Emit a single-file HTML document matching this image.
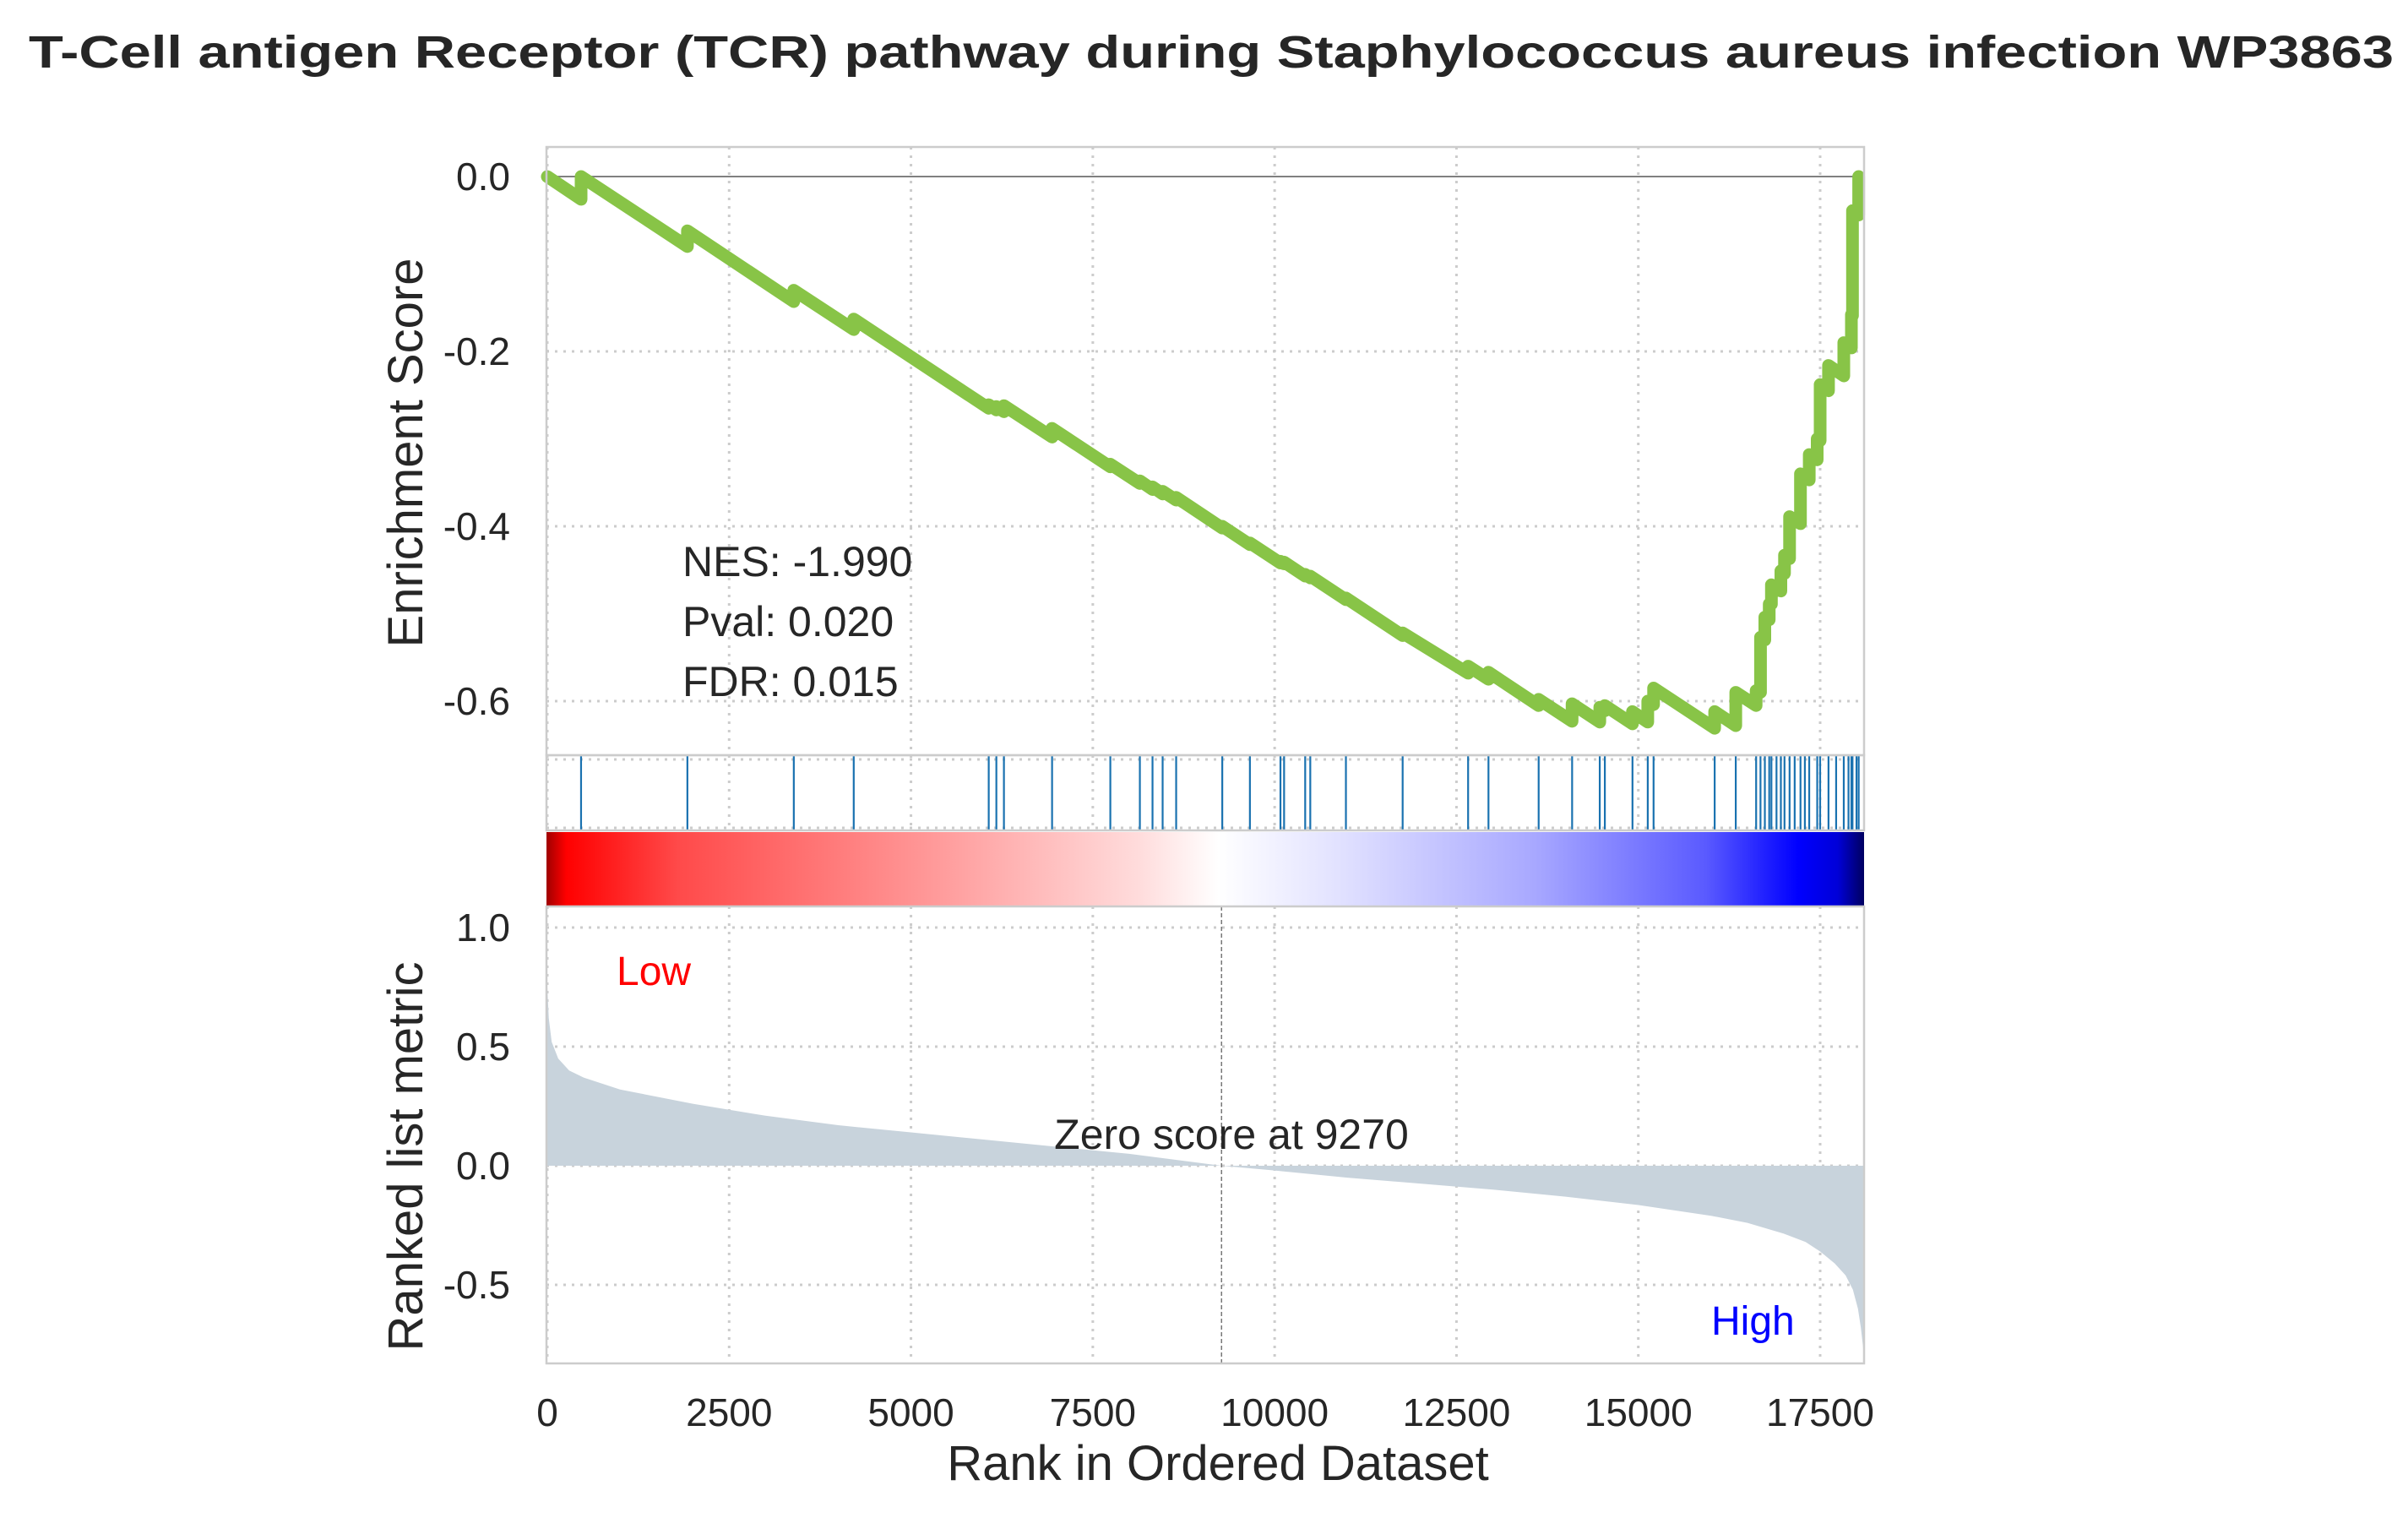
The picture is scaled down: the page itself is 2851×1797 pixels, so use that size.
<!DOCTYPE html>
<html><head><meta charset="utf-8">
<style>
html,body{margin:0;padding:0;background:#fff;}
svg{display:block;font-family:"Liberation Sans",Arial,sans-serif;}
</style></head>
<body>
<svg id="chart" width="2851" height="1797" viewBox="0 0 2851 1797" xmlns="http://www.w3.org/2000/svg">
<defs>
<linearGradient id="cbar" x1="0" x2="1" y1="0" y2="0">
<stop offset="0" stop-color="#a00000"/>
<stop offset="0.015" stop-color="#ff0000"/>
<stop offset="0.1" stop-color="#ff4a4a"/>
<stop offset="0.3" stop-color="#ff9c9c"/>
<stop offset="0.45" stop-color="#ffdcdc"/>
<stop offset="0.51" stop-color="#ffffff"/>
<stop offset="0.6" stop-color="#e2e2ff"/>
<stop offset="0.75" stop-color="#a8a8ff"/>
<stop offset="0.88" stop-color="#5a5aff"/>
<stop offset="0.95" stop-color="#0000ff"/>
<stop offset="0.98" stop-color="#0000d8"/>
<stop offset="1" stop-color="#000060"/>
</linearGradient>
</defs>
<text x="1434" y="80" text-anchor="middle" font-size="54" font-weight="bold" fill="#262626" textLength="2800" lengthAdjust="spacingAndGlyphs">T-Cell antigen Receptor (TCR) pathway during Staphylococcus aureus infection WP3863</text>
<g id="grid"></g>
<g id="marks"></g>
<g id="frames"></g>
<g id="labels"></g>
</svg>
<script>
// ---- data ----
const esRanks  = [0,464,464,1926,1926,3389,3389,4213,4213,6069,6069,6174,6174,6278,6278,6940,6940,7741,7741,8147,8147,8321,8321,8460,8460,8646,8646,9280,9280,9660,9660,10080,10080,10130,10130,10420,10420,10490,10490,10980,10980,11760,11760,12660,12660,12940,12940,13630,13630,14090,14090,14470,14470,14540,14540,14920,14920,15130,15130,15210,15210,16050,16050,16340,16340,16620,16620,16680,16680,16740,16740,16800,16800,16830,16830,16960,16960,17010,17010,17080,17080,17230,17230,17350,17350,17460,17460,17500,17500,17615,17615,17825,17825,17930,17930,17945,17945,18030,18030];
const esValues = [0,-0.026,0.0,-0.080,-0.062,-0.143,-0.130,-0.175,-0.163,-0.265,-0.261,-0.267,-0.263,-0.269,-0.262,-0.298,-0.288,-0.332,-0.329,-0.351,-0.348,-0.358,-0.355,-0.363,-0.360,-0.370,-0.367,-0.402,-0.400,-0.421,-0.419,-0.442,-0.440,-0.443,-0.441,-0.457,-0.455,-0.459,-0.457,-0.484,-0.482,-0.525,-0.522,-0.568,-0.560,-0.575,-0.567,-0.605,-0.598,-0.623,-0.603,-0.624,-0.607,-0.611,-0.605,-0.626,-0.612,-0.624,-0.600,-0.604,-0.585,-0.631,-0.612,-0.628,-0.590,-0.605,-0.588,-0.590,-0.527,-0.530,-0.504,-0.507,-0.489,-0.489,-0.467,-0.474,-0.451,-0.454,-0.433,-0.437,-0.389,-0.397,-0.340,-0.347,-0.318,-0.324,-0.300,-0.302,-0.238,-0.245,-0.216,-0.228,-0.190,-0.196,-0.158,-0.159,-0.039,-0.044,0.0];
const hitRanks = [464,1926,3389,4213,6069,6174,6278,6940,7741,8147,8321,8460,8646,9280,9660,10080,10130,10420,10490,10980,11760,12660,12940,13630,14090,14470,14540,14920,15130,15210,16050,16340,16620,16680,16740,16800,16830,16900,16960,17010,17080,17150,17230,17290,17350,17460,17500,17615,17720,17825,17890,17930,17945,18000,18030];
const metricRanks  = [0,20,60,150,300,500,1000,2000,3000,4000,5000,6000,7000,8000,9270,10000,11000,12000,13000,14000,15000,16000,16500,17000,17300,17500,17700,17850,17950,18020,18060,18090,18104];
const metricValues = [0.75,0.62,0.52,0.45,0.40,0.37,0.32,0.26,0.21,0.17,0.14,0.11,0.08,0.05,0.0,-0.02,-0.05,-0.075,-0.10,-0.13,-0.165,-0.21,-0.24,-0.285,-0.32,-0.36,-0.41,-0.46,-0.52,-0.60,-0.68,-0.76,-0.83];
const xTicks = [0,2500,5000,7500,10000,12500,15000,17500];
const esTicks = [0.0,-0.2,-0.4,-0.6];
const esTickLabels = ["0.0","-0.2","-0.4","-0.6"];
const mTicks = [1.0,0.5,0.0,-0.5];
const mTickLabels = ["1.0","0.5","0.0","-0.5"];
const zeroScore = 9270;
const statsText = ["NES: -1.990","Pval: 0.020","FDR: 0.015"];

// ---- axes ----
const L=647,R=2207,N=18104;
const TOP=174, TOPB=894, HB=983, CB0=985, CB1=1073, BB=1614;
const xs = r => 648 + r*(R-648)/N;
const yES = v => 209 - v*1035;
const yM = v => 1380 - v*282;
const NS="http://www.w3.org/2000/svg";
function mk(tag, attrs, parent){const e=document.createElementNS(NS,tag);for(const k in attrs)e.setAttribute(k,attrs[k]);parent.appendChild(e);return e;}
const grid=document.getElementById('grid'), marks=document.getElementById('marks'), frames=document.getElementById('frames'), labels=document.getElementById('labels');
const gs={stroke:"#cccccc","stroke-width":3,"stroke-dasharray":"3 7"};
const TF=46;

// colorbar
const cb=mk('rect',{x:L,y:CB0,width:R-L,height:CB1-CB0,fill:"url(#cbar)"},marks);



// vertical grid
xTicks.forEach(t=>{
  [[TOP,TOPB],[TOPB,HB],[CB1,BB]].forEach(([a,b])=>{
    const g=mk('line',Object.assign({x1:xs(t),x2:xs(t),y1:a,y2:b},gs),grid);
    
    
  });
  const tl=mk('text',{x:xs(t),y:1688,"text-anchor":"middle","font-size":TF,fill:"#262626"},labels);
  tl.textContent=t;
  
  
});
// colorbar dotted lines
[1015,1054].forEach(y=>{const g=mk('line',{x1:L,x2:R,y1:y,y2:y,stroke:"#dddddd","stroke-width":3,"stroke-dasharray":"3 7",opacity:0.8},grid);});
const cg=mk('line',{x1:xs(17500),x2:xs(17500),y1:CB0,y2:CB1,stroke:"#dddddd","stroke-width":3,"stroke-dasharray":"3 7"},grid);


// hits panel horizontal dotted
[899,980].forEach(y=>{const g=mk('line',Object.assign({x1:L,x2:R,y1:y,y2:y},gs),grid);});

// ES y grid + ticks
esTicks.forEach((t,i)=>{
  if(t!==0){const g=mk('line',Object.assign({x1:L,x2:R,y1:yES(t),y2:yES(t)},gs),grid);}
  const tl=mk('text',{x:604,y:yES(t)+16,"text-anchor":"end","font-size":TF,fill:"#262626"},labels);
  tl.textContent=esTickLabels[i];
  
  
});
const zl=mk('line',{x1:L,x2:R,y1:yES(0),y2:yES(0),stroke:"#808080","stroke-width":2},grid);



// metric y grid + ticks
mTicks.forEach((t,i)=>{
  const g=mk('line',Object.assign({x1:L,x2:R,y1:yM(t),y2:yM(t)},gs),grid);
  
  
  const tl=mk('text',{x:604,y:yM(t)+16,"text-anchor":"end","font-size":TF,fill:"#262626"},labels);
  tl.textContent=mTickLabels[i];
  
  
});

// metric area
let d="M"+xs(metricRanks[0])+","+yM(0);
metricRanks.forEach((r,i)=>{d+=" L"+xs(r)+","+yM(metricValues[i]);});
d+=" L"+xs(metricRanks[metricRanks.length-1])+","+yM(0)+" Z";
const area=mk('path',{d:d,fill:"#c8d3dc",stroke:"none"},marks);



// zero score line
const zs=mk('line',{x1:xs(zeroScore),x2:xs(zeroScore),y1:CB1,y2:BB,stroke:"#777","stroke-width":1.5,"stroke-dasharray":"5 3"},marks);



// hits
hitRanks.forEach(r=>{
  const h=mk('line',{x1:xs(r),x2:xs(r),y1:TOPB,y2:HB,stroke:"#1a72b0","stroke-width":2.2},marks);
  
  
});

// ES curve
let p="";
esRanks.forEach((r,i)=>{p+=(i?" L":"M")+xs(r).toFixed(1)+","+yES(esValues[i]).toFixed(1);});
const es=mk('path',{d:p,fill:"none",stroke:"#88c447","stroke-width":15,"stroke-linejoin":"round","stroke-linecap":"round"},marks);



// frames
[[TOP,TOPB],[TOPB,HB],[CB1,BB]].forEach(([a,b])=>{
  const f=mk('rect',{x:L,y:a,width:R-L,height:b-a,fill:"none",stroke:"#cccccc","stroke-width":2.5},frames);
  
  
});

// text labels
function txt(s,x,y,size,name,extra){const t=mk('text',Object.assign({x:x,y:y,"font-size":size,fill:"#262626"},extra||{}),labels);t.textContent=s;return t;}
statsText.forEach((s,i)=>{
  txt(s,808,682+i*71,50,'stats-text');
});
txt("Low",730,1166,48,'low-label',{fill:"#ff0000"});
txt("High",2026,1580,48,'high-label',{fill:"#0000ff"});
txt("Zero score at "+zeroScore,1458,1360,50,'zero-score-label',{"text-anchor":"middle"});
txt("Rank in Ordered Dataset",1442,1752,58,'x-axis-title',{"text-anchor":"middle"});
txt("Enrichment Score",0,0,58,'es-y-axis-title',{"text-anchor":"middle",transform:"translate(500,536) rotate(-90)"});
txt("Ranked list metric",0,0,58,'metric-y-axis-title',{"text-anchor":"middle",transform:"translate(500,1369) rotate(-90)"});
</script>
</body></html>
